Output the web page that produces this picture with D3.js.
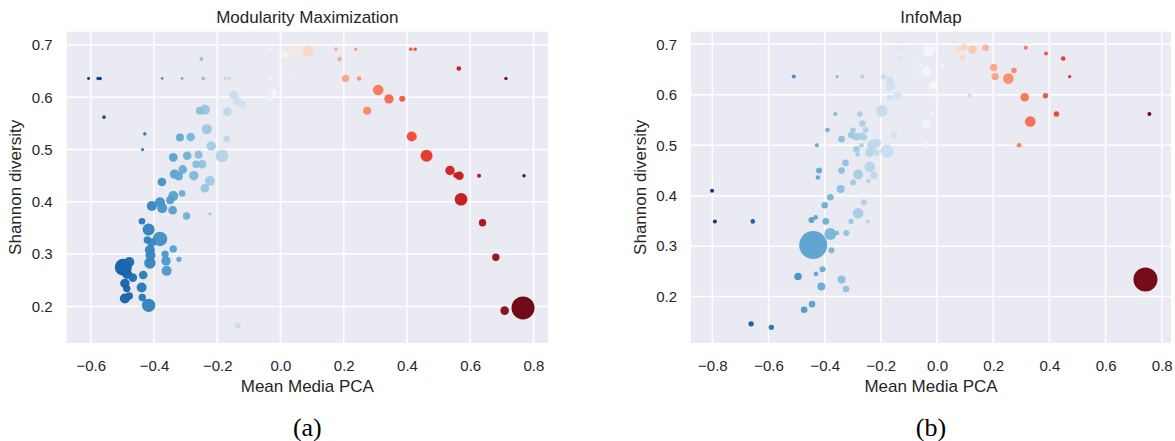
<!DOCTYPE html>
<html>
<head>
<meta charset="utf-8">
<script src="https://cdn.jsdelivr.net/npm/d3@7"></script>
<style>
  body { margin: 0; background: #fff; }
  svg text { font-family: 'Liberation Sans', Arial, sans-serif; fill: #262626; }
</style>
</head>
<body>
<script>
// Modularity Maximization communities
const mmX = [-0.607, -0.577, -0.570, -0.558, -0.429, -0.436, -0.374, -0.311, -0.244, -0.250,
  -0.175, -0.162, -0.104, -0.031, -0.035, 0.046, 0.014, 0.088, 0.066, 0.034,
  -0.020, -0.035, -0.147, -0.137, -0.120, -0.255, -0.239, -0.168, -0.233, -0.170,
  -0.318, -0.284, -0.219, -0.185, -0.259, -0.295, -0.339, -0.267, -0.248, -0.309,
  -0.335, -0.322, -0.274, -0.223, -0.239, -0.375, -0.311, -0.339, -0.349, -0.407,
  -0.381, -0.374, -0.341, -0.297, -0.223, -0.438, -0.417, -0.381, -0.421, -0.407,
  -0.413, -0.411, -0.413, -0.339, -0.365, -0.362, -0.360, -0.321, -0.497, -0.478,
  -0.485, -0.467, -0.434, -0.492, -0.486, -0.492, -0.478, -0.439, -0.437, -0.417,
  -0.135, 0.175, 0.238, 0.187, 0.412, 0.426, 0.564, 0.713, 0.206, 0.249,
  0.309, 0.343, 0.385, 0.274, 0.415, 0.462, 0.536, 0.555, 0.566, 0.628,
  0.770, 0.571, 0.639, 0.681, 0.709, 0.767]
const mmY = [0.636, 0.636, 0.636, 0.562, 0.530, 0.500, 0.636, 0.636, 0.636, 0.673,
  0.636, 0.636, 0.636, 0.636, 0.692, 0.692, 0.682, 0.689, 0.673, 0.636,
  0.609, 0.598, 0.604, 0.593, 0.585, 0.574, 0.576, 0.572, 0.539, 0.520,
  0.523, 0.524, 0.507, 0.488, 0.490, 0.488, 0.485, 0.472, 0.472, 0.462,
  0.453, 0.449, 0.450, 0.440, 0.426, 0.438, 0.416, 0.411, 0.403, 0.392,
  0.399, 0.388, 0.384, 0.373, 0.377, 0.363, 0.347, 0.329, 0.327, 0.322,
  0.308, 0.298, 0.283, 0.310, 0.300, 0.287, 0.268, 0.290, 0.275, 0.285,
  0.262, 0.255, 0.260, 0.244, 0.234, 0.215, 0.220, 0.236, 0.217, 0.202,
  0.163, 0.692, 0.692, 0.673, 0.692, 0.692, 0.655, 0.636, 0.636, 0.636,
  0.614, 0.597, 0.597, 0.574, 0.525, 0.488, 0.460, 0.451, 0.450, 0.450,
  0.450, 0.405, 0.360, 0.294, 0.192, 0.197]
const mmSize = [22, 29, 29, 32, 32, 26, 20, 20, 40, 40,
  29, 29, 12, 29, 53, 203, 109, 303, 29, 29,
  109, 109, 203, 203, 160, 160, 250, 185, 250, 109,
  160, 185, 221, 397, 160, 185, 185, 137, 185, 185,
  221, 185, 221, 250, 185, 185, 109, 250, 160, 250,
  250, 250, 185, 137, 29, 109, 360, 533, 137, 185,
  250, 250, 325, 137, 137, 221, 250, 73, 723, 250,
  250, 185, 185, 221, 137, 250, 137, 250, 137, 449,
  90, 40, 29, 53, 29, 29, 53, 29, 137, 53,
  281, 221, 90, 160, 250, 360, 221, 73, 185, 40,
  29, 397, 137, 137, 185, 1323]

// InfoMap communities
const imX = [-0.510, -0.356, -0.266, -0.190, -0.168, -0.167, -0.128, -0.133, -0.062, -0.029,
  -0.085, -0.059, -0.100, -0.109, -0.038, -0.064, -0.102, -0.140, -0.168, -0.197,
  -0.275, -0.362, -0.266, -0.299, -0.254, -0.390, -0.305, -0.287, -0.269, -0.261,
  -0.340, -0.154, -0.104, -0.037, -0.040, -0.428, -0.269, -0.230, -0.214, -0.287,
  -0.178, -0.240, -0.216, -0.283, -0.326, -0.240, -0.420, -0.340, -0.424, -0.281,
  -0.225, -0.245, -0.299, -0.343, -0.801, -0.380, -0.400, -0.261, -0.281, -0.791,
  -0.656, -0.447, -0.432, -0.396, -0.306, -0.247, -0.380, -0.356, -0.323, -0.441,
  -0.376, -0.408, -0.431, -0.495, -0.340, -0.412, -0.324, -0.445, -0.473, -0.662,
  -0.590, -0.002, 0.075, 0.096, 0.126, 0.090, 0.173, 0.316, 0.388, 0.449,
  0.019, -0.014, 0.202, 0.274, 0.207, 0.254, 0.472, 0.000, 0.116, 0.312,
  0.386, 0.425, 0.756, 0.332, -0.018, 0.292, 0.742]
const imY = [0.636, 0.636, 0.636, 0.636, 0.629, 0.617, 0.693, 0.672, 0.693, 0.687,
  0.662, 0.658, 0.643, 0.636, 0.646, 0.636, 0.611, 0.598, 0.594, 0.568,
  0.562, 0.562, 0.543, 0.530, 0.530, 0.530, 0.520, 0.517, 0.518, 0.516,
  0.512, 0.521, 0.530, 0.541, 0.500, 0.500, 0.500, 0.500, 0.505, 0.492,
  0.488, 0.485, 0.485, 0.482, 0.465, 0.457, 0.450, 0.450, 0.436, 0.442,
  0.440, 0.429, 0.426, 0.413, 0.410, 0.397, 0.381, 0.387, 0.365, 0.349,
  0.349, 0.352, 0.357, 0.349, 0.349, 0.349, 0.324, 0.326, 0.326, 0.302,
  0.292, 0.254, 0.245, 0.240, 0.234, 0.220, 0.215, 0.185, 0.174, 0.146,
  0.139, 0.692, 0.690, 0.694, 0.689, 0.673, 0.693, 0.693, 0.682, 0.672,
  0.656, 0.619, 0.654, 0.648, 0.636, 0.632, 0.636, 0.598, 0.598, 0.595,
  0.598, 0.562, 0.562, 0.547, 0.562, 0.500, 0.234]
const imSize = [40, 29, 40, 73, 137, 221, 53, 53, 29, 303,
  109, 53, 137, 40, 250, 20, 29, 185, 90, 360,
  73, 40, 109, 73, 90, 53, 109, 137, 137, 109,
  109, 109, 53, 160, 90, 40, 53, 281, 160, 109,
  449, 185, 90, 53, 109, 281, 90, 109, 53, 250,
  137, 53, 90, 160, 40, 109, 109, 90, 281, 40,
  53, 90, 53, 109, 73, 40, 360, 53, 90, 1960,
  90, 90, 53, 137, 160, 160, 109, 109, 109, 73,
  73, 53, 109, 109, 160, 73, 109, 40, 40, 53,
  40, 160, 137, 73, 137, 281, 29, 53, 40, 185,
  73, 73, 40, 281, 40, 53, 1440]

const yTicks = [0.2, 0.3, 0.4, 0.5, 0.6, 0.7]
const mmXTicks = [-0.6, -0.4, -0.2, 0.0, 0.2, 0.4, 0.6, 0.8]
const imXTicks = [-0.8, -0.6, -0.4, -0.2, 0.0, 0.2, 0.4, 0.6, 0.8]

const width = 1175
const height = 441
const bg = '#eaeaf2'
const fmt = d3.format('.1f')

// bubble area follows community size
const rScale = d3.scaleSqrt()
  .domain([0, 1000])
  .range([0, 10])

const svg = d3.select('body').append('svg')
  .attr('width', width)
  .attr('height', height)

function colorFor(blueMax, redMax) {
  return x => {
    if (x < 0) return d3.interpolateBlues(Math.min(1, -x / blueMax))
    return d3.interpolateReds(Math.pow(Math.min(1, x / redMax), 0.85))
  }
}

function drawPanel(p) {
  const xScale = d3.scaleLinear()
    .domain(p.xDomain)
    .range([p.left, p.right])

  const yScale = d3.scaleLinear()
    .domain(p.yDomain)
    .range([p.bottom, p.top])

  const g = svg.append('g')

  g.append('rect')
    .attr('x', p.left)
    .attr('y', p.top)
    .attr('width', p.right - p.left)
    .attr('height', p.bottom - p.top)
    .attr('fill', bg)

  g.selectAll('.vgrid')
    .data(p.xTicks)
    .join('line')
    .attr('class', 'vgrid')
    .attr('x1', d => xScale(d))
    .attr('x2', d => xScale(d))
    .attr('y1', p.top)
    .attr('y2', p.bottom)
    .attr('stroke', '#fff')
    .attr('stroke-width', 1.5)

  g.selectAll('.hgrid')
    .data(yTicks)
    .join('line')
    .attr('class', 'hgrid')
    .attr('x1', p.left)
    .attr('x2', p.right)
    .attr('y1', d => yScale(d))
    .attr('y2', d => yScale(d))
    .attr('stroke', '#fff')
    .attr('stroke-width', 1.5)

  const xAxis = g.append('g')
    .attr('transform', `translate(0, ${p.bottom})`)
    .call(d3.axisBottom(xScale).tickValues(p.xTicks).tickFormat(fmt).tickSize(0).tickPadding(17))
  xAxis.select('.domain').remove()
  xAxis.selectAll('text').style('font-size', '15px')

  const yAxis = g.append('g')
    .attr('transform', `translate(${p.left}, 0)`)
    .call(d3.axisLeft(yScale).tickValues(yTicks).tickFormat(fmt).tickSize(0).tickPadding(14))
  yAxis.select('.domain').remove()
  yAxis.selectAll('text').style('font-size', '15px')

  const color = colorFor(p.blueMax, p.redMax)
  const pts = p.xs.map((x, i) => ({ x: x, y: p.ys[i], size: p.sizes[i] }))
    .sort((a, b) => b.size - a.size)

  g.selectAll('circle')
    .data(pts)
    .join('circle')
    .attr('cx', d => xScale(d.x))
    .attr('cy', d => yScale(d.y))
    .attr('r', d => rScale(d.size))
    .attr('fill', d => color(d.x))
    .attr('fill-opacity', 0.96)

  const cx = (p.left + p.right) / 2

  g.append('text')
    .attr('x', cx)
    .attr('y', 17)
    .attr('text-anchor', 'middle')
    .attr('dominant-baseline', 'central')
    .style('font-size', '17px')
    .text(p.title)

  g.append('text')
    .attr('x', cx)
    .attr('y', 386)
    .attr('text-anchor', 'middle')
    .attr('dominant-baseline', 'central')
    .style('font-size', '17px')
    .text('Mean Media PCA')

  g.append('text')
    .attr('transform', `translate(${p.left - 51}, ${(p.top + p.bottom) / 2}) rotate(-90)`)
    .attr('text-anchor', 'middle')
    .attr('dominant-baseline', 'central')
    .style('font-size', '17px')
    .text('Shannon diversity')

  g.append('text')
    .attr('x', cx)
    .attr('y', 427)
    .attr('text-anchor', 'middle')
    .attr('dominant-baseline', 'central')
    .style('font-family', "'Liberation Serif', 'DejaVu Serif', serif")
    .style('font-size', '26px')
    .style('fill', '#000')
    .text(p.caption)
}

drawPanel({
  title: 'Modularity Maximization', caption: '(a)',
  xs: mmX, ys: mmY, sizes: mmSize, xTicks: mmXTicks,
  xDomain: [-0.676, 0.846], yDomain: [0.13, 0.7254],
  left: 66.7, right: 548, top: 31.7, bottom: 343,
  blueMax: 0.607, redMax: 0.77
})

drawPanel({
  title: 'InfoMap', caption: '(b)',
  xs: imX, ys: imY, sizes: imSize, xTicks: imXTicks,
  xDomain: [-0.876, 0.833], yDomain: [0.108, 0.725],
  left: 691, right: 1171, top: 31.7, bottom: 343,
  blueMax: 0.80, redMax: 0.756
})
</script>
</body>
</html>
